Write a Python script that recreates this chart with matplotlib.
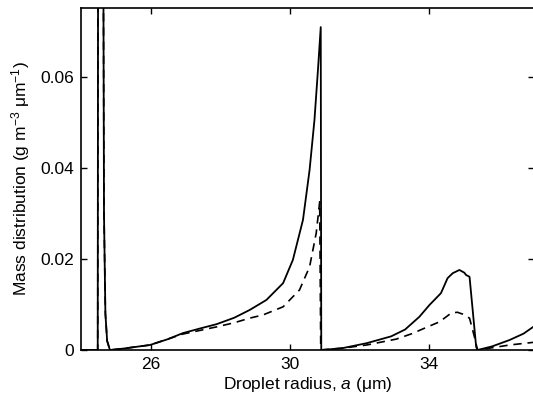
import matplotlib
matplotlib.use("Agg")
from matplotlib import pyplot as plt

# solid curve
solid_x = [24.0, 24.48, 24.49, 24.64, 24.66, 24.70, 24.75, 24.83, 25.2, 25.98, 26.5,
           26.92, 27.4, 27.9, 28.4, 28.84, 29.32, 29.8, 30.08, 30.37, 30.56, 30.7,
           30.8, 30.88, 30.895, 31.5, 32.2, 32.9, 33.3, 33.71, 34.0, 34.33, 34.52,
           34.67, 34.86, 35.0, 35.05, 35.15, 35.34, 35.38, 35.8, 36.3, 36.7, 37.0]
solid_y = [0.0, 0.0, 0.09, 0.09, 0.03, 0.008, 0.002, 0.0, 0.0003, 0.0011, 0.0024,
           0.0037, 0.0047, 0.0057, 0.0071, 0.0088, 0.011, 0.0147, 0.0198, 0.0286, 0.0396, 0.0506,
           0.0616, 0.071, 0.0, 0.0004, 0.0015, 0.003, 0.0045, 0.0073, 0.0099, 0.0125, 0.0158,
           0.0169, 0.0176, 0.017, 0.0165, 0.0161, 0.0007, 0.0, 0.0008, 0.0022, 0.0036, 0.0052]

# dashed curve
dash_x = [24.0, 24.48, 24.49, 24.64, 24.66, 24.70, 24.75, 24.83, 25.2, 25.98, 26.92,
          27.9, 28.4, 28.84, 29.22, 29.8, 30.27, 30.56, 30.75, 30.85, 30.88, 31.5,
          32.2, 33.05, 33.5, 33.86, 34.29, 34.62, 34.8, 34.95, 35.15, 35.29, 35.38,
          35.8, 36.3, 37.0]
dash_y = [0.0, 0.0, 0.09, 0.09, 0.03, 0.008, 0.002, 0.0, 0.0003, 0.0011, 0.0035,
          0.0051, 0.006, 0.007, 0.0077, 0.0095, 0.0132, 0.0183, 0.0257, 0.0326, 0.0, 0.0004,
          0.0011, 0.0024, 0.0036, 0.0048, 0.0062, 0.0081, 0.0083, 0.0079, 0.007, 0.0029, 0.0,
          0.0005, 0.0011, 0.0017]

x_ticks = [26, 30, 34]
y_ticks = [0, 0.02, 0.04, 0.06]
y_tick_labels = ["0", "0.02", "0.04", "0.06"]

plt.rcParams['font.family'] = ['Liberation Sans', 'DejaVu Sans']
plt.rcParams['mathtext.fontset'] = 'custom'
plt.rcParams['mathtext.rm'] = 'Liberation Sans'
plt.rcParams['mathtext.it'] = 'Liberation Sans:italic'

fig = plt.figure(figsize=(5.33, 3.96), dpi=100)
ax = fig.add_axes([81 / 533, 1 - 350 / 396, (534 - 81) / 533, (350 - 8) / 396])

ax.plot(solid_x, solid_y, color="black", lw=1.3, solid_joinstyle="round")
ax.plot(dash_x, dash_y, color="black", lw=1.2, dashes=(5, 3.5))

ax.set_xlim(24, 37)
ax.set_ylim(0, 0.0752)
ax.set_xticks(x_ticks)
ax.set_yticks(y_ticks)
ax.set_yticklabels(y_tick_labels)
ax.tick_params(direction="in", length=4, width=1, top=True, right=True,
               labelsize=12.5, pad=5)
for s in ax.spines.values():
    s.set_linewidth(1.2)

ax.set_xlabel("Droplet radius, $a$ (\u03bcm)", fontsize=12.5, labelpad=2)
ax.set_ylabel("Mass distribution (g m$^{-3}$ \u03bcm$^{-1}$)", fontsize=12.5, labelpad=6)

fig.savefig("out.png", dpi=100)
